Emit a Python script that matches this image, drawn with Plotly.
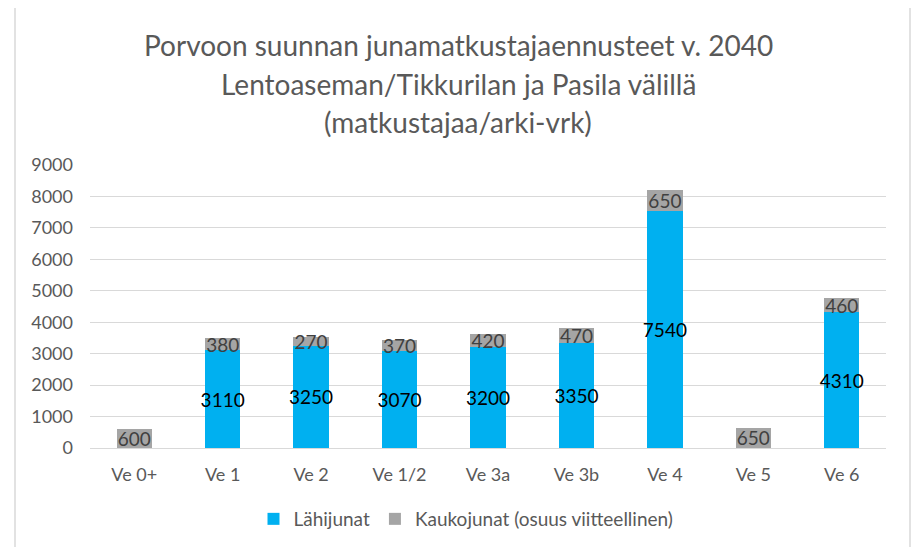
import plotly.graph_objects as go

categories = ["Ve 0+", "Ve 1", "Ve 2", "Ve 1/2", "Ve 3a", "Ve 3b", "Ve 4", "Ve 5", "Ve 6"]
lahijunat = [None, 3110, 3250, 3070, 3200, 3350, 7540, None, 4310]
kaukojunat = [600, 380, 270, 370, 420, 470, 650, 650, 460]
y_ticks = [0, 1000, 2000, 3000, 4000, 5000, 6000, 7000, 8000, 9000]
title_lines = ["Porvoon suunnan junamatkustajaennusteet v. 2040",
               "Lentoaseman/Tikkurilan ja Pasila välillä",
               "(matkustajaa/arki-vrk)"]

FONT = "Lato"
OFF = 8  # page body margin offset
W, H = 919 - OFF, 547 - OFF
L, T = 90 - OFF, 165 - OFF
R = W - (886 - OFF)
B = H - (448 - OFF)
pw, ph = W - L - R, H - T - B

def px_x(x):
    return (x - OFF - L) / pw

def px_y(y):
    return (H - B - (y - OFF)) / ph

fig = go.Figure()
fig.add_trace(go.Bar(
    name="Lähijunat", x=categories, y=lahijunat,
    marker=dict(color="#00B0F0", line=dict(width=0)),
    text=[str(v) if v else "" for v in lahijunat],
    textposition="inside", insidetextanchor="middle", constraintext="none", textangle=0,
    textfont=dict(family=FONT, size=19, color="#000000"),
))
fig.add_trace(go.Bar(
    name="Kaukojunat (osuus viitteellinen)", x=categories, y=kaukojunat,
    marker=dict(color="#A5A5A5", line=dict(width=0)),
    text=[str(v) for v in kaukojunat],
    textposition="inside", insidetextanchor="middle", constraintext="none", textangle=0,
    textfont=dict(family=FONT, size=19, color="#404040"),
))

for i, (line, yp) in enumerate(zip(title_lines, [45, 84, 122])):
    fig.add_annotation(text=line, x=px_x(458), y=px_y(yp), xref="paper", yref="paper",
                       xanchor="center", yanchor="middle", showarrow=False,
                       font=dict(family=FONT, size=28, color="#595959"))

fig.add_shape(type="rect", xref="paper", yref="paper",
              x0=px_x(15), x1=px_x(910), y0=px_y(560), y1=px_y(6),
              line=dict(color="#D9D9D9", width=1.5), layer="below")

fig.update_layout(
    width=W, height=H,
    margin=dict(l=L, r=R, t=T, b=B, pad=0, autoexpand=False),
    barmode="stack", bargap=0.6,
    plot_bgcolor="white", paper_bgcolor="white",
    font=dict(family=FONT, size=18, color="#595959"),
    showlegend=True,
    legend=dict(orientation="h", x=px_x(466), xanchor="center", y=px_y(519), yanchor="middle",
                font=dict(family=FONT, size=19, color="#595959"), traceorder="normal",
                itemwidth=30),
    uniformtext=dict(minsize=19, mode="show"),
)
fig.update_yaxes(range=[0, 9000], tickvals=y_ticks, showgrid=True, gridcolor="#D9D9D9",
                 gridwidth=1, zeroline=True, zerolinecolor="#D9D9D9", zerolinewidth=1,
                 showline=False, ticks="", ticklabelstandoff=16,
                 tickfont=dict(family=FONT, size=18, color="#595959"))
fig.update_xaxes(showgrid=False, showline=False, ticks="", ticklabelstandoff=14,
                 tickfont=dict(family=FONT, size=18, color="#595959"))

fig.write_html("out.html")
